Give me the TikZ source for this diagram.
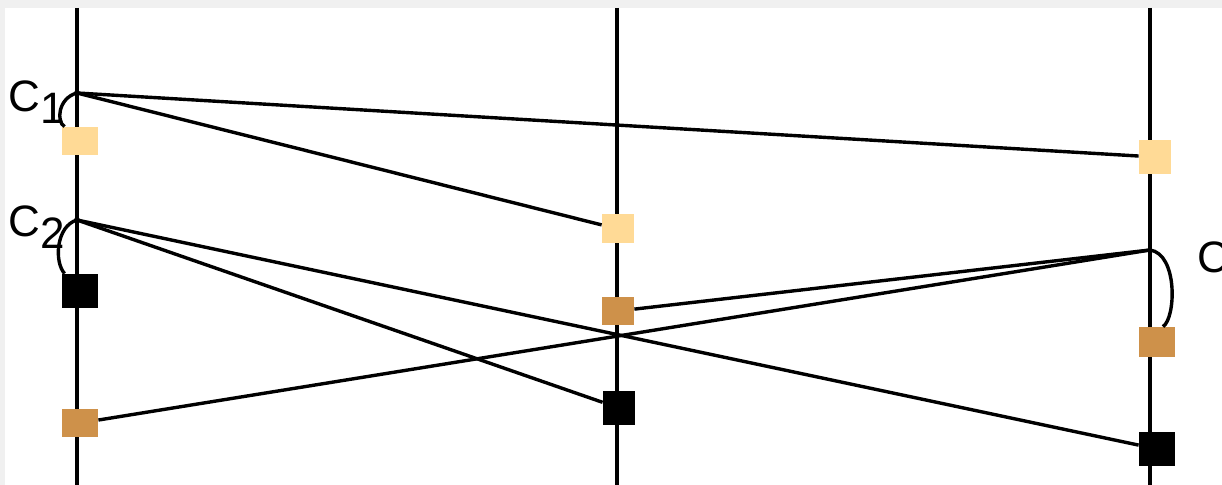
\documentclass[tikz,border=0pt]{standalone}
\usepackage{fontspec}
\setmainfont{Liberation Sans}
\definecolor{lightsq}{RGB}{255,218,150}
\definecolor{tansq}{RGB}{206,145,74}
\begin{document}
\begin{tikzpicture}[x=0.5pt,y=-0.5pt,
  axis/.style={line width=1.9pt},
  conn/.style={line width=1.7pt},
  sq/.style={rectangle,inner sep=0pt,draw=none,minimum width=17pt,minimum height=15pt},
  lsq/.style={sq,fill=lightsq},
  tsq/.style={sq,fill=tansq},
  bsq/.style={sq,fill=black,minimum height=17pt},
  lbl/.style={anchor=base west,inner sep=0pt,font=\fontsize{22}{24}\selectfont}]
\useasboundingbox (0,0) rectangle (1222,485);
\clip (0,0) rectangle (1222,485);
\fill[gray!12] (0,0) rectangle (1222,8);
\fill[gray!12] (0,0) rectangle (5,485);
% axes
\coordinate (t1) at (77,8);   \coordinate (b1) at (77,485);
\coordinate (t2) at (617,8);  \coordinate (b2) at (617,485);
\coordinate (t3) at (1150,8); \coordinate (b3) at (1150,485);
\draw[axis] (t1) -- (b1);
\draw[axis] (t2) -- (b2);
\draw[axis] (t3) -- (b3);
% event points
\coordinate (c1) at (77,93);
\coordinate (c2) at (77,220);
\coordinate (c3) at (1150,250);
% squares
\node[lsq,minimum width=18pt,minimum height=14pt] (l1) at (80,141) {};
\node[bsq,minimum width=18pt] (k1) at (80,291) {};
\node[tsq,minimum width=18pt,minimum height=14pt] (o1) at (80,423) {};
\node[lsq,minimum width=16pt,minimum height=14.5pt] (l2) at (618,229) {};
\node[tsq,minimum width=16pt,minimum height=14pt] (o2) at (618,311) {};
\node[bsq,minimum width=16pt] (k2) at (619,408) {};
\node[lsq,minimum width=16pt,minimum height=17pt] (l3) at (1155,157) {};
\node[tsq,minimum width=18pt,minimum height=15pt] (o3) at (1157,342) {};
\node[bsq,minimum width=18pt] (k3) at (1157,449) {};
% connectors
\draw[conn] (c1) -- (l3);
\draw[conn] (c1) -- (l2);
\draw[conn] (c2) -- (k2);
\draw[conn] (c2) -- (k3);
\draw[conn] (c3) -- (o2);
\draw[conn] (c3) -- (o1);
% arcs
\draw[conn] (c1) .. controls (58,98) and (56,122) .. ([xshift=1.5pt]l1.north west);
\draw[conn] (c2) .. controls (56,226) and (54,262) .. ([xshift=1.5pt]k1.north west);
\draw[conn] (c3) .. controls (1178,254) and (1176,318) .. ([xshift=3pt]o3.north);
\fill (c1) circle (3);
\fill (c2) circle (3);
\fill (c3) circle (2.5);
% labels
\node[lbl] (n1) at (8,112) {C\raisebox{-6pt}{1}};
\node[lbl] (n2) at (8,237) {C\raisebox{-6pt}{2}};
\node[lbl] (n3) at (1197,273) {C\raisebox{-6pt}{3}};
\end{tikzpicture}
\end{document}
